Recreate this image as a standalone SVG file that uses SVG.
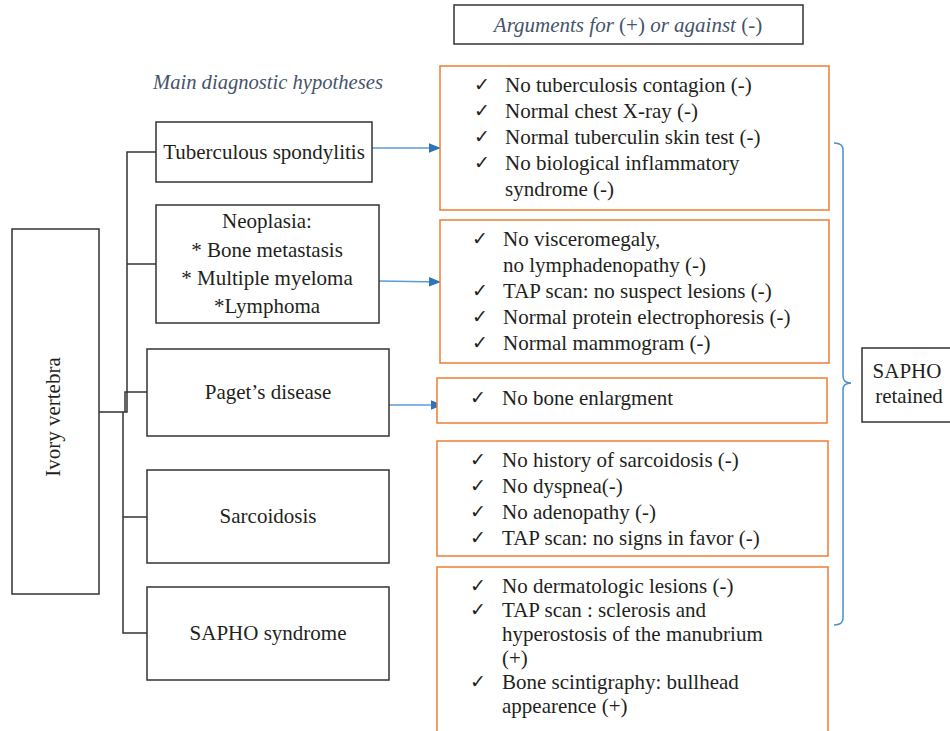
<svg xmlns="http://www.w3.org/2000/svg" width="950" height="731" viewBox="0 0 950 731">
<style>
text{font-family:"Liberation Serif","Times New Roman",serif;font-size:21px;fill:#231F20}
.c{text-anchor:middle}
.it{font-style:italic;fill:#44546A}
.up{font-style:normal}
.ck{font-family:"DejaVu Sans",sans-serif;font-size:19px}
.nb{fill:#fff;stroke:#333;stroke-width:1.5}
.ob{fill:#fff;stroke:#ED7D31;stroke-width:1.5}
.ln{fill:none;stroke:#333;stroke-width:1.5}
.ar{fill:none;stroke:#5B9BD5;stroke-width:1.5}
</style>
<defs>
<marker id="ah" viewBox="0 0 10 8" refX="10" refY="4" markerWidth="8" markerHeight="6.4" orient="auto">
<path d="M0,0 L10,4 L0,8 z" fill="#2E75B6"/>
</marker>
</defs>
<rect width="950" height="731" fill="#fff"/>

<g id="header">
<rect class="nb" x="454" y="5" width="349" height="39"/>
<text class="c it" x="628" y="32">Arguments for <tspan class="up">(+)</tspan> or against <tspan class="up">(-)</tspan></text>
</g>
<g id="hypotheses-title">
<text class="it" x="153" y="89" style="font-size:20.6px">Main diagnostic hypotheses</text>
</g>

<g id="connectors">
<path class="ln" d="M99,412 H127 V152 H156 M127,264 H156"/>
<path class="ln" d="M147,392 H125 V412 M123,412 V633 H147 M123,517 H147"/>
<path class="ar" d="M372,148 H441" marker-end="url(#ah)"/>
<path class="ar" d="M379,281 L441,282" marker-end="url(#ah)"/>
<path class="ar" d="M389,405 H443" marker-end="url(#ah)"/>
<path fill="none" stroke="#4A8FD4" stroke-width="1.5" d="M834,143 Q843,143 843,150 V376 Q843,383 851,383 Q843,383 843,390 V618 Q843,625 834,625"/>
</g>

<g id="ivory">
<rect class="nb" x="12" y="229" width="87" height="365"/>
<text class="c" transform="translate(60,417) rotate(-90)">Ivory vertebra</text>
</g>

<g id="tuberculous">
<rect class="nb" x="156" y="122" width="216" height="60"/>
<text class="c" x="264" y="159">Tuberculous spondylitis</text>
</g>

<g id="neoplasia">
<rect class="nb" x="156" y="205" width="223" height="118"/>
<text class="c" x="267" y="228">Neoplasia:</text>
<text class="c" x="267" y="257">* Bone metastasis</text>
<text class="c" x="267" y="285">* Multiple myeloma</text>
<text class="c" x="267" y="313">*Lymphoma</text>
</g>

<g id="paget">
<rect class="nb" x="147" y="349" width="242" height="87"/>
<text class="c" x="268" y="399">Paget’s disease</text>
</g>

<g id="sarcoidosis">
<rect class="nb" x="147" y="470" width="242" height="93"/>
<text class="c" x="268" y="523">Sarcoidosis</text>
</g>

<g id="sapho">
<rect class="nb" x="147" y="587" width="242" height="93"/>
<text class="c" x="268" y="640">SAPHO syndrome</text>
</g>

<g id="args-tuberculous">
<rect class="ob" x="440" y="66" width="389" height="144"/>
<text class="ck" x="474" y="91">✓</text><text x="505" y="92">No tuberculosis contagion (-)</text>
<text class="ck" x="474" y="117">✓</text><text x="505" y="118">Normal chest X-ray (-)</text>
<text class="ck" x="474" y="143">✓</text><text x="505" y="144">Normal tuberculin skin test (-)</text>
<text class="ck" x="474" y="169">✓</text><text x="505" y="170">No biological inflammatory</text>
<text x="505" y="196">syndrome (-)</text>
</g>

<g id="args-neoplasia">
<rect class="ob" x="440" y="220" width="389" height="143"/>
<text class="ck" x="472" y="245">✓</text><text x="503" y="246">No visceromegaly,</text>
<text x="503" y="272">no lymphadenopathy (-)</text>
<text class="ck" x="472" y="297">✓</text><text x="503" y="298">TAP scan: no suspect lesions (-)</text>
<text class="ck" x="472" y="323">✓</text><text x="503" y="324">Normal protein electrophoresis (-)</text>
<text class="ck" x="472" y="349">✓</text><text x="503" y="350">Normal mammogram (-)</text>
</g>

<g id="args-paget">
<rect class="ob" x="437" y="378" width="390" height="45"/>
<text class="ck" x="470" y="404">✓</text><text x="502" y="405">No bone enlargment</text>
</g>

<g id="args-sarcoidosis">
<rect class="ob" x="437" y="441" width="391" height="115"/>
<text class="ck" x="470" y="466">✓</text><text x="502" y="467">No history of sarcoidosis (-)</text>
<text class="ck" x="470" y="492">✓</text><text x="502" y="493">No dyspnea(-)</text>
<text class="ck" x="470" y="518">✓</text><text x="502" y="519">No adenopathy (-)</text>
<text class="ck" x="470" y="544">✓</text><text x="502" y="545">TAP scan: no signs in favor (-)</text>
</g>

<g id="args-sapho">
<rect class="ob" x="437" y="567" width="391" height="180"/>
<text class="ck" x="470" y="592">✓</text><text x="502" y="593">No dermatologic lesions (-)</text>
<text class="ck" x="470" y="616">✓</text><text x="502" y="617">TAP scan : sclerosis and</text>
<text x="502" y="641">hyperostosis of the manubrium</text>
<text x="502" y="665">(+)</text>
<text class="ck" x="470" y="688">✓</text><text x="502" y="689">Bone scintigraphy: bullhead</text>
<text x="502" y="713">appearence (+)</text>
</g>

<g id="sapho-retained">
<rect class="nb" x="862" y="348" width="100" height="74"/>
<text class="c" x="907" y="378">SAPHO</text>
<text class="c" x="909" y="403">retained</text>
</g>
</svg>
